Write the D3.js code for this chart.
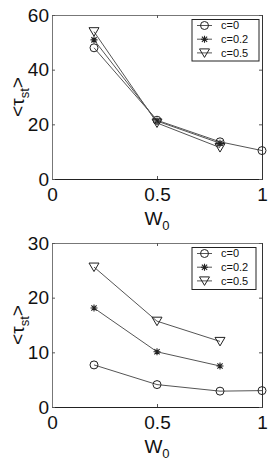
<!DOCTYPE html>
<html>
<head>
<meta charset="utf-8">
<script src="https://cdn.jsdelivr.net/npm/d3@7"></script>
<style>
  body { margin: 0; background: #fff; }
  svg { display: block; font-family: "Liberation Sans", Arial, Helvetica, sans-serif; }
</style>
</head>
<body>
<div id="chart"></div>
<script>
// Data
const seriesNames = ["c=0", "c=0.2", "c=0.5"];
const markerTypes = ["circle", "star", "triangle"];

const topW0 = [[0.2, 0.5, 0.8, 1], [0.2, 0.5, 0.8], [0.2, 0.5, 0.8]];
const topTau = [[48.0, 21.5, 13.6, 10.4], [50.9, 21.2, 13.1], [53.9, 20.5, 11.5]];
const topYTicks = [0, 20, 40, 60];

const bottomW0 = [[0.2, 0.5, 0.8, 1], [0.2, 0.5, 0.8], [0.2, 0.5, 0.8]];
const bottomTau = [[7.7, 4.1, 2.9, 3.0], [18.1, 10.1, 7.5], [25.6, 15.7, 12.0]];
const bottomYTicks = [0, 10, 20, 30];

const xTicks = [0, 0.5, 1];

const width = 272, height = 460;
const svg = d3.select("#chart").append("svg")
    .attr("width", width)
    .attr("height", height);

// Draw one marker at (x, y)
function drawMarker(g, type, x, y) {
    if (type === "circle") {
        g.append("circle").attr("cx", x).attr("cy", y).attr("r", 4)
            .attr("fill", "none").attr("stroke", "#222").attr("stroke-width", 1);
    } else if (type === "star") {
        const s = 3.5;
        const p = "M" + (x - s) + "," + y + "L" + (x + s) + "," + y +
            "M" + x + "," + (y - s) + "L" + x + "," + (y + s) +
            "M" + (x - s * 0.75) + "," + (y - s * 0.75) + "L" + (x + s * 0.75) + "," + (y + s * 0.75) +
            "M" + (x - s * 0.75) + "," + (y + s * 0.75) + "L" + (x + s * 0.75) + "," + (y - s * 0.75);
        g.append("path").attr("d", p).attr("stroke", "#222").attr("stroke-width", 1.1).attr("fill", "none");
    } else {
        const s = 5;
        const p = "M" + (x - s) + "," + (y - s * 0.8) + "L" + (x + s) + "," + (y - s * 0.8) +
            "L" + x + "," + (y + s * 0.9) + "Z";
        g.append("path").attr("d", p).attr("stroke", "#222").attr("stroke-width", 1).attr("fill", "none");
    }
}

function drawPanel(top, xs, ys, yTicks, legendBox) {
    const left = 52, right = 262, bottom = top + 164;
    const x = d3.scaleLinear().domain([0, 1]).range([left, right]);
    const y = d3.scaleLinear().domain([0, yTicks[yTicks.length - 1]]).range([bottom, top]);
    const g = svg.append("g");

    // Axes box with inward ticks on all four sides
    g.append("g").attr("transform", "translate(0," + bottom + ")")
        .call(d3.axisBottom(x).tickValues(xTicks).tickSize(-3).tickFormat(d3.format("")))
        .call(a => a.select(".domain").attr("stroke", "#222"))
        .call(a => a.selectAll("text").attr("font-size", 19).attr("fill", "#111").attr("y", 9).attr("dy", "0.71em"));
    g.append("g").attr("transform", "translate(0," + top + ")")
        .call(d3.axisTop(x).tickValues(xTicks).tickSize(-3).tickFormat(""))
        .call(a => a.select(".domain").attr("stroke", "#777"));
    g.append("g").attr("transform", "translate(" + left + ",0)")
        .call(d3.axisLeft(y).tickValues(yTicks).tickSize(-3))
        .call(a => a.select(".domain").attr("stroke", "#777"))
        .call(a => a.selectAll("text").attr("font-size", 19).attr("fill", "#111").attr("x", -3));
    g.append("g").attr("transform", "translate(" + right + ",0)")
        .call(d3.axisRight(y).tickValues(yTicks).tickSize(-3).tickFormat(""))
        .call(a => a.select(".domain").attr("stroke", "#333"));
    g.selectAll(".tick line").attr("stroke", "#555");

    // Lines and markers
    const line = d3.line().x(d => x(d[0])).y(d => y(d[1]));
    xs.forEach((xv, i) => {
        const pts = xv.map((v, j) => [v, ys[i][j]]);
        g.append("path").datum(pts).attr("d", line)
            .attr("fill", "none").attr("stroke", "#555").attr("stroke-width", 1);
        pts.forEach(p => drawMarker(g, markerTypes[i], x(p[0]), y(p[1])));
    });

    // Legend
    const lg = g.append("g");
    lg.append("rect").attr("x", legendBox[0]).attr("y", top + legendBox[1])
        .attr("width", legendBox[2]).attr("height", legendBox[3])
        .attr("fill", "#fff").attr("stroke", "#222").attr("stroke-width", 1);
    seriesNames.forEach((name, i) => {
        const ry = top + legendBox[1] + 6 + i * 13.7;
        lg.append("line").attr("x1", 197).attr("x2", 212).attr("y1", ry).attr("y2", ry)
            .attr("stroke", "#555");
        drawMarker(lg, markerTypes[i], 204.5, ry);
        lg.append("text").attr("x", 221).attr("y", ry).attr("dy", "0.35em")
            .attr("font-size", 11).attr("fill", "#111").text(name);
    });

    // Axis titles
    const xl = g.append("text").attr("x", 157).attr("y", bottom + 46)
        .attr("text-anchor", "middle").attr("font-size", 19).attr("fill", "#111");
    xl.append("tspan").text("W");
    xl.append("tspan").attr("font-size", 13).attr("dy", 5).text("0");

    const yl = g.append("text")
        .attr("transform", "translate(24," + ((top + bottom) / 2) + ") rotate(-90)")
        .attr("text-anchor", "middle").attr("font-size", 19).attr("fill", "#111");
    yl.append("tspan").text("<τ");
    yl.append("tspan").attr("font-size", 13).attr("dy", 5).text("st");
    yl.append("tspan").attr("dy", -5).text(">");
}

drawPanel(15, topW0, topTau, topYTicks, [192, 4.5, 67, 41.5]);
drawPanel(243, bottomW0, bottomTau, bottomYTicks, [192, 4.5, 64, 42]);
</script>
</body>
</html>
